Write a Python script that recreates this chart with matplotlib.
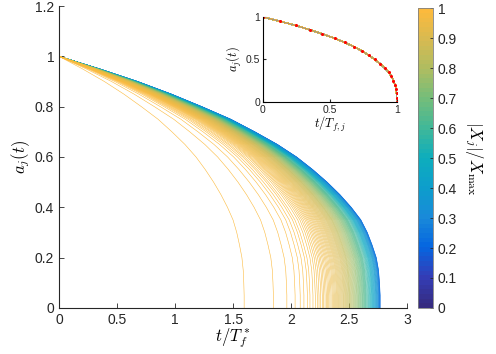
import numpy as np
import matplotlib
matplotlib.use("Agg")
from matplotlib import pyplot as plt
from matplotlib.colors import LinearSegmentedColormap, Normalize
from matplotlib.cm import ScalarMappable

plt.rcParams['font.family'] = ['Liberation Sans', 'DejaVu Sans']
plt.rcParams['mathtext.fontset'] = 'cm'

profile_s = [0.000, 0.127, 0.245, 0.350, 0.445, 0.535, 0.610, 0.680, 0.740, 0.790,
             0.835, 0.875, 0.910, 0.940, 0.960, 0.975, 0.988, 0.995, 0.998, 1.000, 1.000]
profile_a = [1.00, 0.95, 0.90, 0.85, 0.80, 0.75, 0.70, 0.65, 0.60, 0.55,
             0.50, 0.45, 0.40, 0.35, 0.30, 0.25, 0.20, 0.15, 0.10, 0.05, 0.00]

# |X_j|/X_max (colour) and end time T_f,j/T_f^* of each curve
x_ratio = [1.000, 0.998, 0.996, 0.994, 0.992, 0.990, 0.988, 0.986, 0.984, 0.982, 0.980,
           0.976, 0.973, 0.970, 0.967, 0.964, 0.961, 0.958, 0.955, 0.952, 0.948,
           0.944, 0.940, 0.936, 0.932, 0.928, 0.924, 0.920, 0.915, 0.910, 0.905,
           0.900, 0.894, 0.888, 0.882, 0.876, 0.870, 0.862, 0.854, 0.846, 0.838, 0.830,
           0.820, 0.810, 0.800, 0.790, 0.780, 0.770, 0.760, 0.750, 0.740, 0.730,
           0.720, 0.710, 0.700, 0.690, 0.680, 0.670, 0.660, 0.650, 0.640, 0.630,
           0.620, 0.610, 0.600, 0.585, 0.570, 0.555, 0.540, 0.525, 0.510, 0.495,
           0.480, 0.465, 0.450, 0.435, 0.420, 0.405, 0.390, 0.375, 0.360, 0.345,
           0.330, 0.315, 0.300, 0.285, 0.270, 0.255, 0.240, 0.225, 0.210]
t_end = [1.595, 1.847, 1.963, 2.034, 2.078, 2.110, 2.140, 2.162, 2.188, 2.208, 2.225,
         2.240, 2.255, 2.268, 2.280, 2.292, 2.303, 2.314, 2.324, 2.334, 2.344,
         2.354, 2.363, 2.372, 2.381, 2.390, 2.398, 2.406, 2.414, 2.422, 2.430,
         2.438, 2.446, 2.453, 2.460, 2.467, 2.474, 2.481, 2.488, 2.495, 2.501, 2.507,
         2.514, 2.521, 2.528, 2.535, 2.542, 2.549, 2.556, 2.563, 2.569, 2.576,
         2.582, 2.588, 2.594, 2.600, 2.606, 2.612, 2.617, 2.623, 2.628, 2.633,
         2.638, 2.643, 2.648, 2.655, 2.662, 2.668, 2.674, 2.680, 2.686, 2.692,
         2.697, 2.702, 2.707, 2.712, 2.717, 2.722, 2.727, 2.731, 2.735, 2.739,
         2.743, 2.747, 2.751, 2.754, 2.757, 2.760, 2.763, 2.765, 2.767]

# colour bar as seen in the picture
cmap_colors = [(0.21, 0.17, 0.50), (0.20, 0.24, 0.72), (0.02, 0.40, 0.88), (0.10, 0.54, 0.85),
               (0.05, 0.62, 0.80), (0.05, 0.68, 0.74), (0.25, 0.72, 0.60), (0.45, 0.74, 0.48),
               (0.68, 0.74, 0.38), (0.84, 0.73, 0.32), (0.99, 0.73, 0.24)]
cmap = LinearSegmentedColormap.from_list('cb', cmap_colors, N=64)
norm = Normalize(0, 1)

fig = plt.figure(figsize=(4.96, 3.54), dpi=100)
ax = fig.add_axes([0.119, 0.130, 0.702, 0.853])

s = np.array(profile_s)
a = np.array(profile_a)
# blue curves first so the yellow ones sit on top
for c, T in list(zip(x_ratio, t_end))[::-1]:
    ax.plot(s * T, a, color=cmap(norm(c)), lw=0.4)

ax.set_xlim(0, 3)
ax.set_ylim(0, 1.2)
ax.set_xticks(np.arange(0, 3.01, 0.5))
ax.set_xticklabels(['0', '0.5', '1', '1.5', '2', '2.5', '3'])
ax.set_yticks(np.arange(0, 1.21, 0.2))
ax.set_yticklabels(['0', '0.2', '0.4', '0.6', '0.8', '1', '1.2'])
for side in ['top', 'right']:
    ax.spines[side].set_visible(False)
for side in ['left', 'bottom']:
    ax.spines[side].set_color('#262626')
ax.tick_params(direction='in', length=3.5, labelsize=10, colors='#262626', width=0.6)
ax.set_xlabel(r'$t/T_f^*$', fontsize=12, labelpad=0)
ax.set_ylabel(r'$a_j(t)$', fontsize=12, labelpad=2)

# inset
ins = fig.add_axes([0.530, 0.712, 0.270, 0.240])
for c, T in list(zip(x_ratio, t_end))[::-1]:
    ins.plot(s, a, color=cmap(norm(c)), lw=0.8)
ins.plot(s, a, color='0.55', lw=0.6)
ins.plot(s, a, 'o', color='red', ms=2.2, mec='none')
ins.set_xlim(0, 1)
ins.set_ylim(0, 1)
ins.set_xticks([0, 0.5, 1])
ins.set_xticklabels(['0', '0.5', '1'])
ins.set_yticks([0, 0.5, 1])
ins.set_yticklabels(['0', '0.5', '1'])
for side in ['top', 'right']:
    ins.spines[side].set_visible(False)
ins.tick_params(direction='in', length=2.5, labelsize=7.5, colors='#262626', pad=2)
ins.set_xlabel(r'$t/T_{f,j}$', fontsize=9, labelpad=0)
ins.set_ylabel(r'$a_j(t)$', fontsize=9, labelpad=1)

# colour bar
cax = fig.add_axes([0.843, 0.130, 0.030, 0.847])
cb = fig.colorbar(ScalarMappable(norm=norm, cmap=cmap), cax=cax)
cb.set_ticks(np.arange(0, 1.01, 0.1))
cb.set_ticklabels(['0', '0.1', '0.2', '0.3', '0.4', '0.5', '0.6', '0.7', '0.8', '0.9', '1'])
cb.ax.tick_params(direction='in', length=2.5, labelsize=10, colors='#262626', width=0.6)
cb.outline.set_edgecolor('0.5')
cb.outline.set_linewidth(0.6)
cb.set_label(r'$|X_j|/X_{\max}$', fontsize=12, rotation=270, labelpad=20)

fig.savefig('out.png', dpi=100)
